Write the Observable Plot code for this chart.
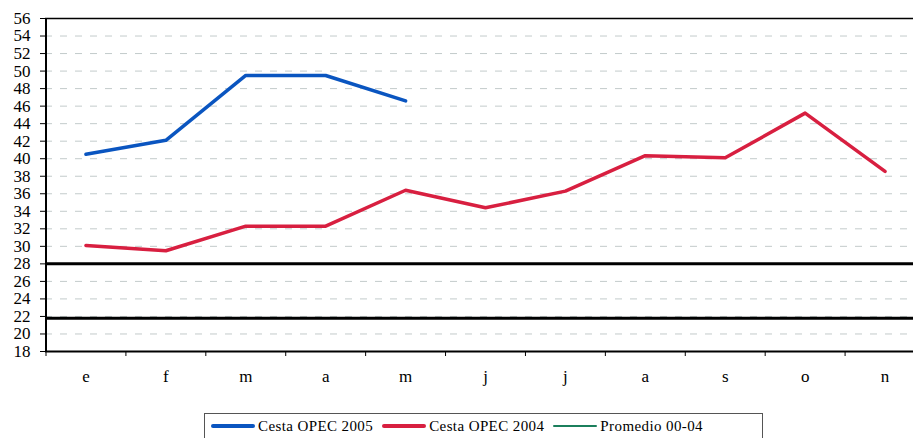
<!DOCTYPE html>
<html><head><meta charset="utf-8">
<script src="https://cdn.jsdelivr.net/npm/d3@7"></script>
<script src="https://cdn.jsdelivr.net/npm/@observablehq/plot@0.6"></script>
<style>
body{margin:0;background:#fff;font-family:"Liberation Serif","Times New Roman",serif;}
#wrap{position:relative;width:913px;height:438px;overflow:hidden;}
#legend{position:absolute;left:204px;top:413px;width:559px;height:32px;border:1.5px solid #555;box-sizing:border-box;display:flex;align-items:center;padding:0 0 6px 6px;font-size:15px;letter-spacing:0.4px;color:#000;font-family:"Liberation Serif","Times New Roman",serif;}
.item{display:flex;align-items:center;margin-right:9px;}
.sw{width:44px;margin-right:3px;border-radius:2px;}
</style></head>
<body><div id="wrap"><div id="chart"></div><div id="legend"></div></div>
<script>
const months = ["e","f","m","a","m","j","j","a","s","o","n"];
const cesta2005 = [40.5, 42.1, 49.5, 49.5, 46.6];
const cesta2004 = [30.1, 29.5, 32.3, 32.3, 36.4, 34.4, 36.3, 40.35, 40.1, 45.2, 38.55];
const bandLines = [28, 21.8];
const yTicks = [18,20,22,24,26,28,30,32,34,36,38,40,42,44,46,48,50,52,54,56];
const seriesNames = ["Cesta OPEC 2005","Cesta OPEC 2004","Promedio 00-04"];
const seriesColors = ["#0a55c0","#d81f40","#1b7f5c"];

const idx = months.map((_, i) => i);
const bounds = months.map((_, i) => i - 0.5).concat([months.length - 0.5]);

const chart = Plot.plot({
  width: 913, height: 400,
  marginLeft: 45, marginTop: 18, marginBottom: 49, marginRight: 0,
  x: {domain: [-0.5, months.length - 0.5], range: [45.5, 924.5], axis: null},
  y: {domain: [18, 56], axis: null},
  style: {fontFamily: "'Liberation Serif', 'Times New Roman', serif", fontSize: "17px", color: "#000", background: "#fff"},
  marks: [
    Plot.ruleY(yTicks.slice(1, -1), {stroke: "#c3cbcb", strokeDasharray: "7,8", strokeWidth: 1}),
    Plot.ruleY(bandLines, {stroke: "#000", strokeWidth: 3}),
    Plot.ruleY([56], {stroke: "#000", strokeWidth: 1.5}),
    Plot.axisY({ticks: yTicks, tickSize: 5, tickPadding: 10, tickFormat: d => String(d), fontSize: 17, fontFamily: "Liberation Serif"}),
    Plot.axisX({ticks: bounds, tickSize: 5, tickFormat: () => "", anchor: "bottom"}),
    Plot.axisX({ticks: idx, tickSize: 0, tickPadding: 18, tickFormat: i => months[i], anchor: "bottom", fontSize: 17, fontFamily: "Liberation Serif"}),
    Plot.ruleX([-0.5], {stroke: "#000", strokeWidth: 2}),
    Plot.ruleY([18], {stroke: "#000", strokeWidth: 2}),
    Plot.lineY(cesta2004, {x: (d, i) => i, y: d => d, stroke: seriesColors[1], strokeWidth: 3.5}),
    Plot.lineY(cesta2005, {x: (d, i) => i, y: d => d, stroke: seriesColors[0], strokeWidth: 3.5})
  ]
});
d3.select(chart).selectAll("text")
  .attr("font-family", "Liberation Serif")
  .style("font-family", "'Liberation Serif', serif")
  .style("font-size", "17px")
  .style("fill", "#000");
document.getElementById("chart").appendChild(chart);

const leg = document.getElementById("legend");
seriesNames.forEach((n, i) => {
  const it = document.createElement("div"); it.className = "item";
  const sw = document.createElement("div"); sw.className = "sw";
  sw.style.background = seriesColors[i];
  sw.style.height = i === 2 ? "2px" : "3.5px";
  const tx = document.createElement("span"); tx.textContent = n;
  it.appendChild(sw); it.appendChild(tx); leg.appendChild(it);
});
</script></body></html>
